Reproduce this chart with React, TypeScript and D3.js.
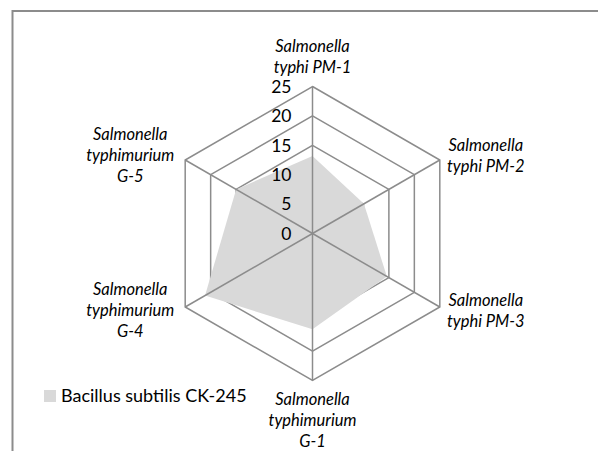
import React, { useEffect, useRef } from "react";
import * as d3 from "d3";

// categories clockwise from the top
const categories = [
  ["Salmonella", "typhi PM-1"],
  ["Salmonella", "typhi PM-2"],
  ["Salmonella", "typhi PM-3"],
  ["Salmonella", "typhimurium", "G-1"],
  ["Salmonella", "typhimurium", "G-4"],
  ["Salmonella", "typhimurium", "G-5"],
];
const values = [13.2, 10.1, 14.6, 16.3, 21.1, 15.0];
const seriesName = "Bacillus subtilis CK-245";
const ticks = [0, 5, 10, 15, 20, 25];

const W = 598;
const H = 451;
const CX = 312.5;
const CY = 233.5;
const RADIUS = 147;
const GRID = "#8c8c8c";
const FILL = "#d9d9d9";
const FONT = "Lato, 'Open Sans', sans-serif";

export default function App() {
  const svgRef = useRef<SVGSVGElement>(null);

  useEffect(() => {
    const svg = d3.select(svgRef.current);
    svg.selectAll("*").remove();

    const n = categories.length;
    const R = d3.scaleLinear().domain([0, 25]).range([0, RADIUS]);
    const A = (i: number) => (i * 2 * Math.PI) / n;

    // chart frame (cut off at right and bottom)
    svg
      .append("rect")
      .attr("x", 12.5)
      .attr("y", 11)
      .attr("width", W)
      .attr("height", H)
      .attr("fill", "none")
      .attr("stroke", GRID)
      .attr("stroke-width", 2);

    const g = svg.append("g").attr("transform", `translate(${CX},${CY})`);

    const radial = d3
      .lineRadial<number>()
      .angle((_, i) => A(i))
      .radius((d) => R(d))
      .curve(d3.curveLinearClosed);

    // rings (under the area)
    g.selectAll("path.ring")
      .data(ticks.slice(1))
      .enter()
      .append("path")
      .attr("class", "ring")
      .attr("d", (t) => radial(categories.map(() => t)))
      .attr("fill", "none")
      .attr("stroke", GRID)
      .attr("stroke-width", 1.5);

    // series area
    g.append("path")
      .attr("d", radial(values))
      .attr("fill", FILL)
      .attr("stroke", "none");

    // spokes (over the area)
    g.selectAll("line.spoke")
      .data(categories)
      .enter()
      .append("line")
      .attr("class", "spoke")
      .attr("x1", 0)
      .attr("y1", 0)
      .attr("x2", (_, i) => R(25) * Math.sin(A(i)))
      .attr("y2", (_, i) => -R(25) * Math.cos(A(i)))
      .attr("stroke", GRID)
      .attr("stroke-width", 1.5);

    // tick labels
    g.selectAll("text.tick")
      .data(ticks)
      .enter()
      .append("text")
      .attr("class", "tick")
      .attr("x", -21)
      .attr("y", (t) => -R(t))
      .attr("dy", "0.36em")
      .attr("text-anchor", "end")
      .attr("font-family", FONT)
      .attr("font-size", 17.5)
      .attr("fill", "#000")
      .text((t) => t);

    // category labels
    const lh = 21;
    categories.forEach((lines, i) => {
      const a = A(i);
      const vx = R(25) * Math.sin(a);
      const vy = -R(25) * Math.cos(a);
      let x = vx;
      let y0: number;
      if (Math.abs(Math.sin(a)) < 0.01) {
        y0 = Math.cos(a) > 0 ? vy - 14 - (lines.length - 1) * lh : vy + 24;
      } else {
        x = vx + (Math.sin(a) > 0 ? 46 : -55);
        y0 = vy - ((lines.length - 1) * lh) / 2 + 5 + (Math.cos(a) > 0 ? -4 : 4);
      }
      const t = g
        .append("text")
        .attr("font-family", FONT)
        .attr("font-style", "italic")
        .attr("font-size", 16.5)
        .attr("text-anchor", "middle")
        .attr("fill", "#000");
      lines.forEach((l, k) => {
        t.append("tspan").attr("x", x).attr("y", y0 + k * lh).text(l);
      });
    });

    // legend
    const lg = svg.append("g").attr("transform", "translate(44,390)");
    lg.append("rect").attr("width", 12).attr("height", 12).attr("fill", FILL);
    lg.append("text")
      .attr("x", 17)
      .attr("y", 12)
      .attr("font-family", FONT)
      .attr("font-size", 18)
      .attr("fill", "#000")
      .text(seriesName);
  }, []);

  return (
    <svg
      ref={svgRef}
      width={W}
      height={H}
      style={{ position: "absolute", left: 0, top: 0, background: "#fff" }}
    />
  );
}
